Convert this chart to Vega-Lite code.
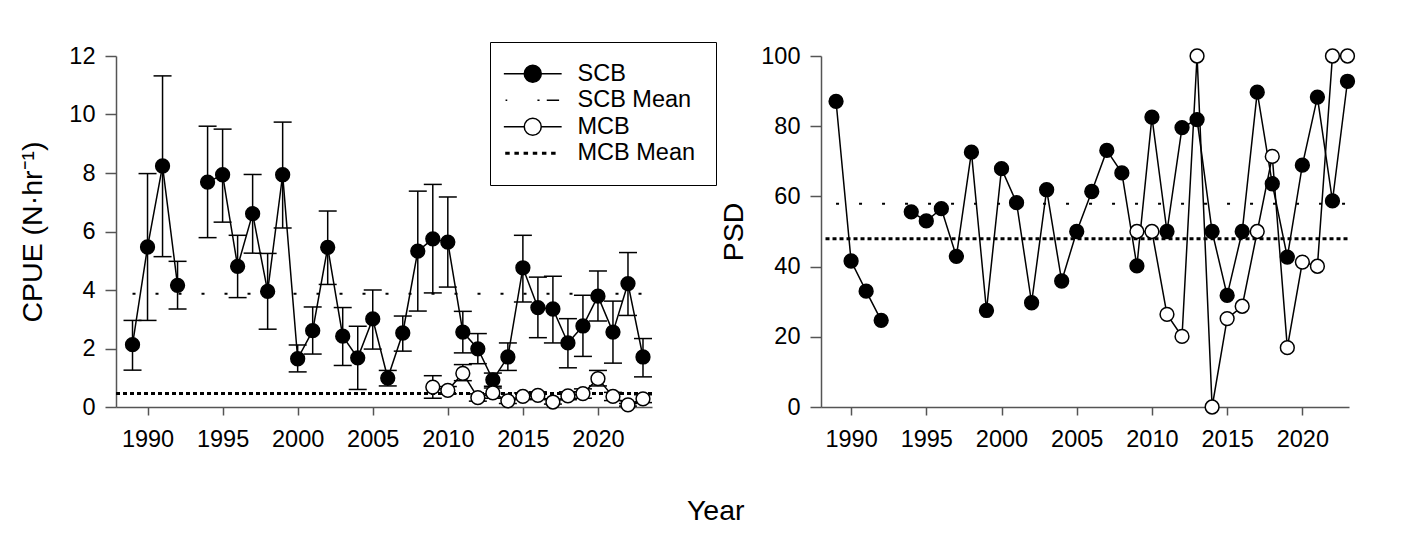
{
  "$schema": "https://vega.github.io/schema/vega-lite/v6.json",
  "background": "white",
  "padding": {"left": 18, "top": 41, "right": 5, "bottom": 5},
  "title": {"text": "Year", "orient": "bottom", "anchor": "middle", "fontSize": 28.5, "fontWeight": "normal", "font": "Liberation Sans", "color": "black", "offset": 46, "dx": 28},
  "spacing": 2,
  "resolve": {"scale": {"fill": "independent", "shape": "independent"}},
  "datasets": {
    "cpue": [
      {"year": 1989, "series": "SCB", "value": 2.13, "lo": 1.26, "hi": 2.96},
      {"year": 1990, "series": "SCB", "value": 5.47, "lo": 2.96, "hi": 7.98},
      {"year": 1991, "series": "SCB", "value": 8.24, "lo": 5.14, "hi": 11.32},
      {"year": 1992, "series": "SCB", "value": 4.16, "lo": 3.35, "hi": 4.98},
      {"year": 1993, "series": "SCB", "value": null, "lo": null, "hi": null},
      {"year": 1994, "series": "SCB", "value": 7.69, "lo": 5.79, "hi": 9.60},
      {"year": 1995, "series": "SCB", "value": 7.94, "lo": 6.32, "hi": 9.50},
      {"year": 1996, "series": "SCB", "value": 4.81, "lo": 3.74, "hi": 5.87},
      {"year": 1997, "series": "SCB", "value": 6.61, "lo": 5.26, "hi": 7.95},
      {"year": 1998, "series": "SCB", "value": 3.95, "lo": 2.66, "hi": 5.25},
      {"year": 1999, "series": "SCB", "value": 7.94, "lo": 6.12, "hi": 9.74},
      {"year": 2000, "series": "SCB", "value": 1.65, "lo": 1.20, "hi": 2.12},
      {"year": 2001, "series": "SCB", "value": 2.61, "lo": 1.81, "hi": 3.42},
      {"year": 2002, "series": "SCB", "value": 5.46, "lo": 4.19, "hi": 6.70},
      {"year": 2003, "series": "SCB", "value": 2.42, "lo": 1.42, "hi": 3.40},
      {"year": 2004, "series": "SCB", "value": 1.68, "lo": 0.60, "hi": 2.76},
      {"year": 2005, "series": "SCB", "value": 3.01, "lo": 1.98, "hi": 4.00},
      {"year": 2006, "series": "SCB", "value": 0.99, "lo": 0.72, "hi": 1.25},
      {"year": 2007, "series": "SCB", "value": 2.53, "lo": 1.91, "hi": 3.11},
      {"year": 2008, "series": "SCB", "value": 5.33, "lo": 3.28, "hi": 7.38},
      {"year": 2009, "series": "SCB", "value": 5.75, "lo": 3.90, "hi": 7.61},
      {"year": 2010, "series": "SCB", "value": 5.64, "lo": 4.10, "hi": 7.18},
      {"year": 2011, "series": "SCB", "value": 2.56, "lo": 1.85, "hi": 3.27},
      {"year": 2012, "series": "SCB", "value": 1.99, "lo": 1.48, "hi": 2.51},
      {"year": 2013, "series": "SCB", "value": 0.93, "lo": 0.71, "hi": 1.16},
      {"year": 2014, "series": "SCB", "value": 1.71, "lo": 1.25, "hi": 2.19},
      {"year": 2015, "series": "SCB", "value": 4.76, "lo": 3.59, "hi": 5.87},
      {"year": 2016, "series": "SCB", "value": 3.40, "lo": 2.37, "hi": 4.44},
      {"year": 2017, "series": "SCB", "value": 3.35, "lo": 2.19, "hi": 4.47},
      {"year": 2018, "series": "SCB", "value": 2.19, "lo": 1.34, "hi": 3.02},
      {"year": 2019, "series": "SCB", "value": 2.77, "lo": 1.73, "hi": 3.82},
      {"year": 2020, "series": "SCB", "value": 3.79, "lo": 2.94, "hi": 4.65},
      {"year": 2021, "series": "SCB", "value": 2.56, "lo": 1.50, "hi": 3.62},
      {"year": 2022, "series": "SCB", "value": 4.22, "lo": 3.13, "hi": 5.28},
      {"year": 2023, "series": "SCB", "value": 1.71, "lo": 1.03, "hi": 2.34},
      {"year": 2009, "series": "MCB", "value": 0.68, "lo": 0.30, "hi": 1.07},
      {"year": 2010, "series": "MCB", "value": 0.57, "lo": 0.45, "hi": 0.70},
      {"year": 2011, "series": "MCB", "value": 1.15, "lo": 0.90, "hi": 1.45},
      {"year": 2012, "series": "MCB", "value": 0.32, "lo": 0.20, "hi": 0.45},
      {"year": 2013, "series": "MCB", "value": 0.48, "lo": 0.30, "hi": 0.65},
      {"year": 2014, "series": "MCB", "value": 0.21, "lo": 0.12, "hi": 0.30},
      {"year": 2015, "series": "MCB", "value": 0.36, "lo": 0.25, "hi": 0.48},
      {"year": 2016, "series": "MCB", "value": 0.40, "lo": 0.28, "hi": 0.52},
      {"year": 2017, "series": "MCB", "value": 0.17, "lo": 0.10, "hi": 0.25},
      {"year": 2018, "series": "MCB", "value": 0.38, "lo": 0.25, "hi": 0.52},
      {"year": 2019, "series": "MCB", "value": 0.46, "lo": 0.30, "hi": 0.62},
      {"year": 2020, "series": "MCB", "value": 0.97, "lo": 0.72, "hi": 1.25},
      {"year": 2021, "series": "MCB", "value": 0.36, "lo": 0.22, "hi": 0.50},
      {"year": 2022, "series": "MCB", "value": 0.07, "lo": 0.03, "hi": 0.12},
      {"year": 2023, "series": "MCB", "value": 0.28, "lo": 0.15, "hi": 0.42}
    ],
    "psd": [
      {"year": 1989, "series": "SCB", "value": 87.1},
      {"year": 1990, "series": "SCB", "value": 41.6},
      {"year": 1991, "series": "SCB", "value": 33.0},
      {"year": 1992, "series": "SCB", "value": 24.7},
      {"year": 1993, "series": "SCB", "value": null},
      {"year": 1994, "series": "SCB", "value": 55.6},
      {"year": 1995, "series": "SCB", "value": 53.0},
      {"year": 1996, "series": "SCB", "value": 56.5},
      {"year": 1997, "series": "SCB", "value": 42.9},
      {"year": 1998, "series": "SCB", "value": 72.6},
      {"year": 1999, "series": "SCB", "value": 27.5},
      {"year": 2000, "series": "SCB", "value": 67.9},
      {"year": 2001, "series": "SCB", "value": 58.2},
      {"year": 2002, "series": "SCB", "value": 29.7},
      {"year": 2003, "series": "SCB", "value": 61.9},
      {"year": 2004, "series": "SCB", "value": 35.9},
      {"year": 2005, "series": "SCB", "value": 50.0},
      {"year": 2006, "series": "SCB", "value": 61.4},
      {"year": 2007, "series": "SCB", "value": 73.1},
      {"year": 2008, "series": "SCB", "value": 66.7},
      {"year": 2009, "series": "SCB", "value": 40.2},
      {"year": 2010, "series": "SCB", "value": 82.6},
      {"year": 2011, "series": "SCB", "value": 50.0},
      {"year": 2012, "series": "SCB", "value": 79.6},
      {"year": 2013, "series": "SCB", "value": 81.9},
      {"year": 2014, "series": "SCB", "value": 50.0},
      {"year": 2015, "series": "SCB", "value": 31.8},
      {"year": 2016, "series": "SCB", "value": 50.0},
      {"year": 2017, "series": "SCB", "value": 89.7},
      {"year": 2018, "series": "SCB", "value": 63.6},
      {"year": 2019, "series": "SCB", "value": 42.7},
      {"year": 2020, "series": "SCB", "value": 68.9},
      {"year": 2021, "series": "SCB", "value": 88.3},
      {"year": 2022, "series": "SCB", "value": 58.7},
      {"year": 2023, "series": "SCB", "value": 92.8},
      {"year": 2009, "series": "MCB", "value": 50.0},
      {"year": 2010, "series": "MCB", "value": 50.0},
      {"year": 2011, "series": "MCB", "value": 26.4},
      {"year": 2012, "series": "MCB", "value": 20.1},
      {"year": 2013, "series": "MCB", "value": 100},
      {"year": 2014, "series": "MCB", "value": 0},
      {"year": 2015, "series": "MCB", "value": 25.2},
      {"year": 2016, "series": "MCB", "value": 28.7},
      {"year": 2017, "series": "MCB", "value": 50.0},
      {"year": 2018, "series": "MCB", "value": 71.4},
      {"year": 2019, "series": "MCB", "value": 16.9},
      {"year": 2020, "series": "MCB", "value": 41.3},
      {"year": 2021, "series": "MCB", "value": 40.1},
      {"year": 2022, "series": "MCB", "value": 100},
      {"year": 2023, "series": "MCB", "value": 100}
    ],
    "means": [
      {"panel": "CPUE", "series": "SCB Mean", "year": 1989, "year2": 2023.6, "value": 3.87},
      {"panel": "CPUE", "series": "MCB Mean", "year": 1987.9, "year2": 2023.6, "value": 0.46},
      {"panel": "PSD", "series": "SCB Mean", "year": 1989, "year2": 2023.1, "value": 57.9},
      {"panel": "PSD", "series": "MCB Mean", "year": 1988.3, "year2": 2023.1, "value": 47.9}
    ]
  },
  "hconcat": [
    {
      "width": 536,
      "height": 351,
      "layer": [
        {
          "data": {"name": "means"},
          "transform": [{"filter": "datum.panel === 'CPUE' && datum.series === 'SCB Mean'"}],
          "mark": {"type": "rule", "color": "black", "strokeWidth": 2, "strokeDash": [3, 20]},
          "encoding": {
            "x": {"field": "year", "type": "quantitative", "scale": {"domain": [1987.9, 2023.6], "nice": false, "zero": false}, "title": null,
                  "axis": {"values": [1990, 1995, 2000, 2005, 2010, 2015, 2020], "format": "d", "tickSize": 8, "labelPadding": 12}},
            "x2": {"field": "year2"},
            "y": {"field": "value", "type": "quantitative", "scale": {"domain": [0, 12], "nice": false, "zero": false}, "title": "CPUE (N·hr⁻¹)",
                  "axis": {"values": [0, 2, 4, 6, 8, 10, 12], "tickSize": 11, "labelPadding": 10, "titleX": -84, "titleY": 175.5, "titleBaseline": "middle"}}
          }
        },
        {
          "data": {"name": "means"},
          "transform": [{"filter": "datum.panel === 'CPUE' && datum.series === 'MCB Mean'"}],
          "mark": {"type": "rule", "color": "black", "strokeWidth": 3, "strokeDash": [4, 3]},
          "encoding": {
            "x": {"field": "year", "type": "quantitative", "scale": {"domain": [1987.9, 2023.6], "nice": false, "zero": false}, "title": null},
            "x2": {"field": "year2"},
            "y": {"field": "value", "type": "quantitative", "scale": {"domain": [0, 12], "nice": false, "zero": false}, "title": "CPUE (N·hr⁻¹)"}
          }
        },
        {
          "data": {"name": "cpue"},
          "mark": {"type": "rule", "color": "black", "strokeWidth": 1.5},
          "encoding": {
            "x": {"field": "year", "type": "quantitative", "scale": {"domain": [1987.9, 2023.6], "nice": false, "zero": false}, "title": null},
            "y": {"field": "lo", "type": "quantitative", "scale": {"domain": [0, 12], "nice": false, "zero": false}, "title": "CPUE (N·hr⁻¹)"},
            "y2": {"field": "hi"}
          }
        },
        {
          "data": {"name": "cpue"},
          "mark": {"type": "tick", "color": "black", "orient": "horizontal", "size": 18, "thickness": 1.5, "opacity": 1},
          "encoding": {
            "x": {"field": "year", "type": "quantitative", "scale": {"domain": [1987.9, 2023.6], "nice": false, "zero": false}, "title": null},
            "y": {"field": "lo", "type": "quantitative", "scale": {"domain": [0, 12], "nice": false, "zero": false}, "title": "CPUE (N·hr⁻¹)"}
          }
        },
        {
          "data": {"name": "cpue"},
          "mark": {"type": "tick", "color": "black", "orient": "horizontal", "size": 18, "thickness": 1.5, "opacity": 1},
          "encoding": {
            "x": {"field": "year", "type": "quantitative", "scale": {"domain": [1987.9, 2023.6], "nice": false, "zero": false}, "title": null},
            "y": {"field": "hi", "type": "quantitative", "scale": {"domain": [0, 12], "nice": false, "zero": false}, "title": "CPUE (N·hr⁻¹)"}
          }
        },
        {
          "data": {"name": "cpue"},
          "mark": {"type": "line", "color": "black", "strokeWidth": 1.5, "invalid": "break-paths-show-domains"},
          "encoding": {
            "x": {"field": "year", "type": "quantitative", "scale": {"domain": [1987.9, 2023.6], "nice": false, "zero": false}, "title": null},
            "y": {"field": "value", "type": "quantitative", "scale": {"domain": [0, 12], "nice": false, "zero": false}, "title": "CPUE (N·hr⁻¹)"},
            "detail": {"field": "series"}
          }
        },
        {
          "data": {"name": "cpue"},
          "mark": {"type": "point", "shape": "circle", "filled": true, "size": 190, "stroke": "black", "strokeWidth": 1.5, "opacity": 1},
          "encoding": {
            "x": {"field": "year", "type": "quantitative", "scale": {"domain": [1987.9, 2023.6], "nice": false, "zero": false}, "title": null},
            "y": {"field": "value", "type": "quantitative", "scale": {"domain": [0, 12], "nice": false, "zero": false}, "title": "CPUE (N·hr⁻¹)"},
            "fill": {"field": "series", "type": "nominal", "scale": {"domain": ["SCB", "SCB Mean", "MCB", "MCB Mean"], "range": ["black", "black", "white", "black"]},
                     "legend": {"title": null, "orient": "none", "legendX": 374, "legendY": -14, "strokeColor": "black", "fillColor": "white", "padding": 20, "labelFontSize": 23.5, "labelFont": "Liberation Sans", "labelColor": "black", "symbolSize": 289, "symbolStrokeWidth": 1.5, "symbolOpacity": 1, "rowPadding": 1.5, "labelOffset": 33, "symbolOffset": 11,
                                "encode": {"symbols": {"stroke": {"value": "black"}, "strokeWidth": {"value": 1.5}, "opacity": {"value": 1}}}}}
          }
        },
        {
          "data": {"name": "cpue"},
          "transform": [{"filter": "false"}],
          "mark": {"type": "point", "filled": true, "stroke": "black", "strokeWidth": 1.5, "opacity": 1},
          "encoding": {
            "x": {"field": "year", "type": "quantitative", "scale": {"domain": [1987.9, 2023.6], "nice": false, "zero": false}, "title": null},
            "y": {"field": "value", "type": "quantitative", "scale": {"domain": [0, 12], "nice": false, "zero": false}, "title": "CPUE (N·hr⁻¹)"},
            "fill": {"field": "series", "type": "nominal", "scale": {"domain": ["SCB", "SCB Mean", "MCB", "MCB Mean"], "range": ["black", "black", "white", "black"]},
                     "legend": {"title": null, "orient": "none", "legendX": 374, "legendY": -14, "strokeColor": "black", "fillColor": "white", "padding": 20, "labelFontSize": 23.5, "labelFont": "Liberation Sans", "labelColor": "black", "symbolSize": 289, "symbolStrokeWidth": 1.5, "symbolOpacity": 1, "rowPadding": 1.5, "labelOffset": 33, "symbolOffset": 11,
                                "encode": {"symbols": {"stroke": {"value": "black"}, "strokeWidth": {"value": 1.5}, "opacity": {"value": 1}}}}},
            "shape": {"field": "series", "type": "nominal",
                      "scale": {"domain": ["SCB", "SCB Mean", "MCB", "MCB Mean"],
                                "range": [
                                  "M-3.4,0H-1M1,0H3.4M-1,0C-1,-0.5523,-0.5523,-1,0,-1C0.5523,-1,1,-0.5523,1,0C1,0.5523,0.5523,1,0,1C-0.5523,1,-1,0.5523,-1,0Z",
                                  "M-3.2,0H-3M0.55,0H0.8M1.65,0H3.1",
                                  "M-3.4,0H-1M1,0H3.4M-1,0C-1,-0.5523,-0.5523,-1,0,-1C0.5523,-1,1,-0.5523,1,0C1,0.5523,0.5523,1,0,1C-0.5523,1,-1,0.5523,-1,0Z",
                                  "M-3.15,-0.09h0.35v0.18h-0.35ZM-2.07,-0.09h0.35v0.18h-0.35ZM-0.99,-0.09h0.35v0.18h-0.35ZM0.09,-0.09h0.35v0.18h-0.35ZM1.17,-0.09h0.35v0.18h-0.35ZM2.25,-0.09h0.35v0.18h-0.35Z"
                                ]},
                      "legend": {"title": null, "orient": "none", "legendX": 374, "legendY": -14, "strokeColor": "black", "fillColor": "white", "padding": 20, "labelFontSize": 23.5, "labelFont": "Liberation Sans", "labelColor": "black", "symbolSize": 289, "symbolStrokeWidth": 1.5, "symbolOpacity": 1, "rowPadding": 1.5, "labelOffset": 33, "symbolOffset": 11,
                                 "encode": {"symbols": {"stroke": {"value": "black"}, "strokeWidth": {"value": 1.5}, "opacity": {"value": 1}}}}}
          }
        }
      ]
    },
    {
      "width": 528,
      "height": 351,
      "layer": [
        {
          "data": {"name": "means"},
          "transform": [{"filter": "datum.panel === 'PSD' && datum.series === 'SCB Mean'"}],
          "mark": {"type": "rule", "color": "black", "strokeWidth": 2, "strokeDash": [3, 20]},
          "encoding": {
            "x": {"field": "year", "type": "quantitative", "scale": {"domain": [1988, 2023.1], "nice": false, "zero": false}, "title": null,
                  "axis": {"values": [1990, 1995, 2000, 2005, 2010, 2015, 2020], "format": "d", "tickSize": 8, "labelPadding": 12}},
            "x2": {"field": "year2"},
            "y": {"field": "value", "type": "quantitative", "scale": {"domain": [0, 100], "nice": false, "zero": false}, "title": "PSD",
                  "axis": {"values": [0, 20, 40, 60, 80, 100], "tickSize": 11, "labelPadding": 10, "titleX": -88, "titleY": 175.5, "titleBaseline": "middle"}}
          }
        },
        {
          "data": {"name": "means"},
          "transform": [{"filter": "datum.panel === 'PSD' && datum.series === 'MCB Mean'"}],
          "mark": {"type": "rule", "color": "black", "strokeWidth": 3, "strokeDash": [4, 3]},
          "encoding": {
            "x": {"field": "year", "type": "quantitative", "scale": {"domain": [1988, 2023.1], "nice": false, "zero": false}, "title": null},
            "x2": {"field": "year2"},
            "y": {"field": "value", "type": "quantitative", "scale": {"domain": [0, 100], "nice": false, "zero": false}, "title": "PSD"}
          }
        },
        {
          "data": {"name": "psd"},
          "mark": {"type": "line", "color": "black", "strokeWidth": 1.5, "invalid": "break-paths-show-domains"},
          "encoding": {
            "x": {"field": "year", "type": "quantitative", "scale": {"domain": [1988, 2023.1], "nice": false, "zero": false}, "title": null},
            "y": {"field": "value", "type": "quantitative", "scale": {"domain": [0, 100], "nice": false, "zero": false}, "title": "PSD"},
            "detail": {"field": "series"}
          }
        },
        {
          "data": {"name": "psd"},
          "transform": [{"filter": "datum.series === 'SCB'"}],
          "mark": {"type": "point", "shape": "circle", "filled": true, "fill": "black", "size": 190, "stroke": "black", "strokeWidth": 1.5, "opacity": 1},
          "encoding": {
            "x": {"field": "year", "type": "quantitative", "scale": {"domain": [1988, 2023.1], "nice": false, "zero": false}, "title": null},
            "y": {"field": "value", "type": "quantitative", "scale": {"domain": [0, 100], "nice": false, "zero": false}, "title": "PSD"}
          }
        },
        {
          "data": {"name": "psd"},
          "transform": [{"filter": "datum.series === 'MCB'"}],
          "mark": {"type": "point", "shape": "circle", "filled": true, "fill": "white", "size": 190, "stroke": "black", "strokeWidth": 1.5, "opacity": 1},
          "encoding": {
            "x": {"field": "year", "type": "quantitative", "scale": {"domain": [1988, 2023.1], "nice": false, "zero": false}, "title": null},
            "y": {"field": "value", "type": "quantitative", "scale": {"domain": [0, 100], "nice": false, "zero": false}, "title": "PSD"}
          }
        }
      ]
    }
  ],
  "config": {
    "font": "Liberation Sans",
    "view": {"stroke": null},
    "axis": {
      "grid": false,
      "domainColor": "#555555",
      "domainWidth": 1.5,
      "tickColor": "#555555",
      "tickWidth": 1.5,
      "labelColor": "black",
      "labelFont": "Liberation Sans",
      "labelFontSize": 23.5,
      "titleFont": "Liberation Sans",
      "titleFontSize": 28.5,
      "titleFontWeight": "normal",
      "titleColor": "black",
      "labelFlush": false,
      "labelOverlap": false
    }
  }
}
